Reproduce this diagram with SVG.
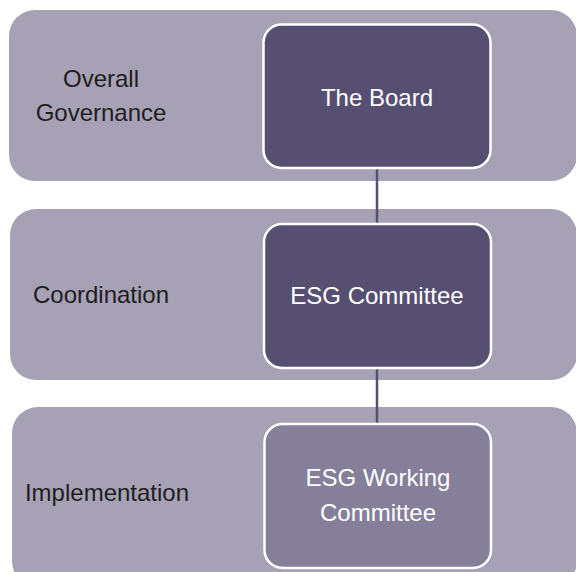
<svg xmlns="http://www.w3.org/2000/svg" width="576" height="572" viewBox="0 0 576 572">
<style>
.band{fill:#a7a1b5}
.box{stroke:#ffffff;stroke-width:2.5}
.dark{fill:#574f71}
.mid{fill:#857f9a}
.lbl{font-family:"Liberation Sans",Arial,sans-serif;font-size:24px;fill:#1e1e1e;text-anchor:middle}
.in{font-family:"Liberation Sans",Arial,sans-serif;font-size:24px;fill:#ffffff;text-anchor:middle}
.conn{stroke:#574f71;stroke-width:2.5;fill:none}
</style>
<rect width="576" height="572" fill="#ffffff"/>
<g id="band-governance">
<rect class="band" x="9" y="10" width="568" height="171" rx="26"/>
<text class="lbl" x="101" y="87">Overall</text>
<text class="lbl" x="101" y="121">Governance</text>
</g>
<g id="band-coordination">
<rect class="band" x="10" y="209" width="567" height="171" rx="26"/>
<text class="lbl" x="101" y="303">Coordination</text>
</g>
<g id="band-implementation">
<rect class="band" x="12" y="407" width="565" height="180" rx="26"/>
<text class="lbl" x="107" y="501">Implementation</text>
</g>
<g id="connectors">
<line class="conn" x1="377" y1="168" x2="377" y2="224"/>
<line class="conn" x1="377" y1="368" x2="377" y2="424"/>
</g>
<g id="node-board">
<rect class="box dark" x="263.5" y="24.5" width="227" height="143.5" rx="18"/>
<text class="in" x="377" y="106">The Board</text>
</g>
<g id="node-esg-committee">
<rect class="box dark" x="264" y="224" width="227" height="144" rx="18"/>
<text class="in" x="377" y="304">ESG Committee</text>
</g>
<g id="node-esg-working">
<rect class="box mid" x="264.5" y="424" width="226.5" height="144" rx="18"/>
<text class="in" x="378" y="486">ESG Working</text>
<text class="in" x="378" y="521">Committee</text>
</g>
</svg>
